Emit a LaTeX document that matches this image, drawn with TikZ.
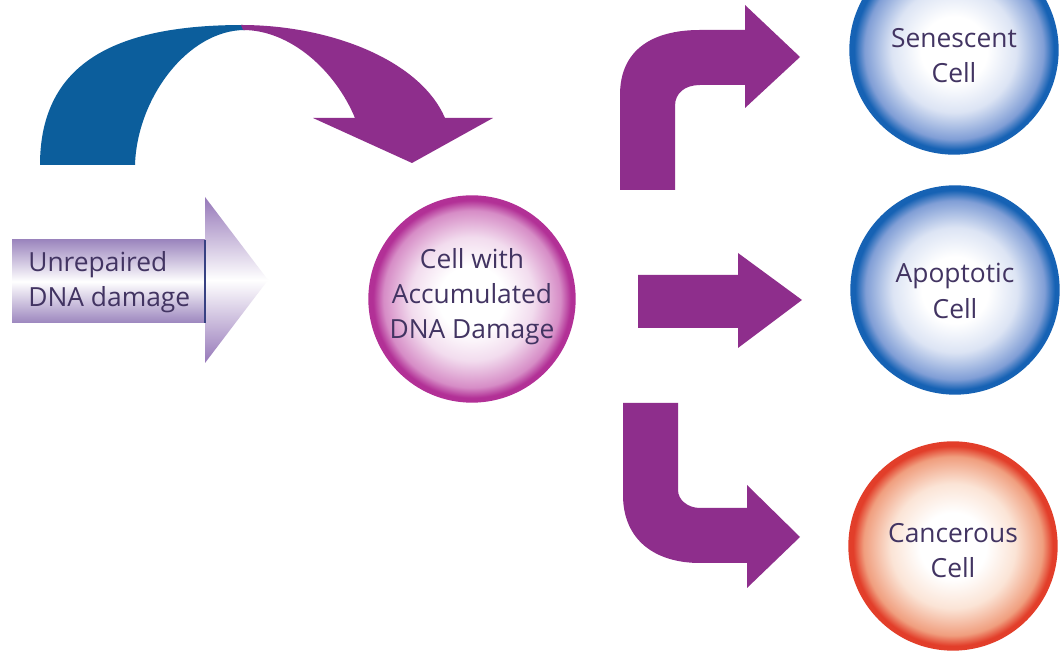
\documentclass[tikz,border=0pt]{standalone}
\usepackage{fontspec}
\newfontfamily\labfont{Open Sans}
\usetikzlibrary{calc}
\definecolor{arcblue}{RGB}{12,94,156}
\definecolor{arcpurple}{RGB}{142,46,140}
\definecolor{txtcol}{RGB}{66,52,98}
\definecolor{lavender}{RGB}{156,134,190}
\definecolor{headlav}{RGB}{150,120,185}
\definecolor{navyline}{RGB}{55,65,130}
% pink cell
\definecolor{pkrim}{RGB}{178,48,150}
\definecolor{pkmid}{RGB}{214,140,198}
\definecolor{pklight}{RGB}{242,220,238}
% blue cell
\definecolor{blrim}{RGB}{22,98,180}
\definecolor{blmid}{RGB}{128,158,214}
\definecolor{bllight}{RGB}{220,228,244}
% orange cell
\definecolor{orrim}{RGB}{226,62,42}
\definecolor{ormid}{RGB}{240,158,126}
\definecolor{orlight}{RGB}{251,228,214}
\pgfdeclareradialshading{cellpink}{\pgfpoint{0bp}{0bp}}{color(0bp)=(white); color(8bp)=(white); color(15bp)=(pklight); color(21.5bp)=(pkmid); color(24bp)=(pkrim); color(50bp)=(pkrim)}
\pgfdeclareradialshading{cellblue}{\pgfpoint{0bp}{0bp}}{color(0bp)=(white); color(8bp)=(white); color(15bp)=(bllight); color(21.5bp)=(blmid); color(24bp)=(blrim); color(50bp)=(blrim)}
\pgfdeclareradialshading{cellorange}{\pgfpoint{0bp}{0bp}}{color(0bp)=(white); color(8bp)=(white); color(15bp)=(orlight); color(21.5bp)=(ormid); color(24bp)=(orrim); color(50bp)=(orrim)}
\begin{document}
\begin{tikzpicture}[x=0.02cm,y=-0.02cm,
  cell/.style={circle, minimum size=4.16cm, inner sep=0pt},
  lab/.style={font=\labfont\fontsize{15}{20}\selectfont, text=txtcol, align=center, inner sep=0pt},
  blockarrow/.style={fill=arcpurple, draw=none}]
\path[use as bounding box] (0,0) rectangle (1063,651);
\clip (0,0) rectangle (1063,651);
\fill[white] (0,0) rectangle (1063,651);

% top arc arrow
\fill[arcblue] (40,165) .. controls (40,60) and (120,25) .. (243,25)
  -- (245,30) .. controls (188,30) and (137,98) .. (135,165) -- cycle;
\fill[arcpurple] (241,25) .. controls (330,25) and (420,60) .. (445,118)
  -- (493,118) -- (412,163) -- (313,118) -- (355,118)
  .. controls (335,70) and (290,30) .. (243,30) -- cycle;

% left input arrow
\shade[top color=lavender, bottom color=lavender, middle color=white]
  (12,240) rectangle (205,323);
\shade[top color=headlav, bottom color=headlav, middle color=white]
  (205,197) -- (268,280) -- (205,363) -- cycle;
\coordinate (vlt) at (205,240);
\coordinate (vlb) at (205,323);
\draw[navyline, line width=1.3pt] (vlt) -- (vlb);
\node[lab, align=left, anchor=base west] (unrep) at (28,307) {Unrepaired\\DNA damage};

% central cell
\node[cell, shading=cellpink, draw=pkrim, line width=0.8pt, minimum size=4.12cm] (acc) at (472,299) {};
\node[lab] (acctxt) at ($(acc)+(0,-2)$) {Cell with\\Accumulated\\DNA Damage};

% bent arrows
\fill[blockarrow] (620,190) -- (620,95) .. controls (620,50) and (652,30) .. (700,30)
  -- (745,30) -- (745,5) -- (800,57) -- (745,108) -- (745,85) -- (700,85)
  .. controls (685,85) and (675,93) .. (675,106) -- (675,190) -- cycle;
\fill[blockarrow] (638,275) -- (738,275) -- (738,253) -- (802,300) -- (738,348)
  -- (738,328) -- (638,328) -- cycle;
\fill[blockarrow] (623,403) -- (623,495) .. controls (623,540) and (655,563) .. (700,563)
  -- (747,563) -- (747,588) -- (800,537) -- (747,485) -- (747,508) -- (700,508)
  .. controls (688,508) and (678,500) .. (678,490) -- (678,403) -- cycle;

% outcome cells
\node[cell, shading=cellblue, draw=blrim, line width=0.8pt] (sen) at (954,50) {};
\node[lab] (sentxt) at ($(sen)+(0,6)$) {Senescent\\Cell};
\node[cell, shading=cellblue, draw=blrim, line width=0.8pt] (apo) at (955,290) {};
\node[lab] (apotxt) at ($(apo)+(0,1)$) {Apoptotic\\Cell};
\node[cell, shading=cellorange, draw=orrim, line width=0.8pt] (can) at (953,546) {};
\node[lab] (cantxt) at ($(can)+(0,5)$) {Cancerous\\Cell};
\end{tikzpicture}
\end{document}
